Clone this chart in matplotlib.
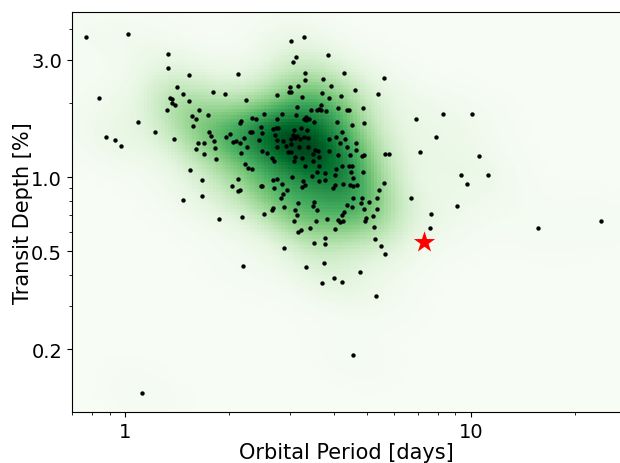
import numpy as np
import matplotlib.pyplot as plt
from matplotlib.ticker import FixedLocator, FixedFormatter, NullFormatter

# orbital period [days] and transit depth [%] for each planet candidate
period = [0.77, 1.02, 0.84, 0.88, 0.93, 0.97, 1.09, 1.12, 1.33, 1.33,
          1.53, 2.12, 1.41, 1.47, 1.79, 1.94, 1.35, 1.36, 2.23, 1.36,
          1.39, 1.32, 1.53, 1.63, 1.56, 1.60, 1.73, 1.57, 1.22, 1.38,
          1.74, 1.77, 1.80, 1.62, 1.69, 1.60, 1.69, 1.81, 1.83, 1.95,
          2.01, 2.05, 2.09, 2.15, 2.20, 2.25, 2.16, 2.14, 2.16, 2.33,
          2.39, 2.52, 2.47, 2.29, 2.32, 2.48, 2.44, 2.49, 2.57, 3.28,
          3.02, 3.12, 3.05, 3.85, 3.31, 3.31, 4.30, 3.73, 5.59, 3.16,
          3.00, 2.98, 3.01, 2.75, 3.25, 3.94, 3.70, 3.88, 4.63, 5.38,
          4.21, 3.68, 3.62, 3.68, 3.58, 3.80, 3.45, 3.13, 4.13, 4.39,
          4.44, 4.88, 2.84, 3.11, 2.75, 3.33, 3.28, 3.32, 3.40, 3.52,
          4.09, 4.51, 4.91, 2.67, 2.73, 2.77, 3.08, 3.23, 3.35, 4.22,
          2.71, 3.06, 3.13, 3.10, 3.02, 3.28, 3.20, 3.37, 3.89, 4.07,
          4.32, 2.74, 2.86, 4.18, 4.66, 4.38, 2.91, 3.01, 3.18, 3.38,
          2.74, 3.54, 3.60, 3.87, 4.65, 2.95, 3.02, 3.48, 3.25, 3.09,
          3.64, 4.12, 4.45, 4.83, 4.89, 5.64, 5.79, 2.65, 2.69, 2.22,
          2.27, 2.32, 2.12, 2.03, 2.12, 2.15, 2.46, 2.48, 1.54, 1.67,
          1.67, 1.47, 1.87, 2.18, 2.51, 2.19, 3.08, 3.30, 3.49, 3.64,
          4.23, 4.44, 4.52, 4.07, 3.58, 3.79, 4.50, 4.86, 3.46, 3.04,
          4.05, 4.55, 2.68, 2.74, 3.26, 3.64, 3.79, 2.84, 2.69, 3.31,
          3.25, 3.98, 4.05, 4.27, 4.45, 4.55, 4.69, 5.59, 5.43, 2.93,
          2.86, 2.82, 4.55, 4.84, 5.07, 5.36, 3.16, 3.52, 3.50, 3.59,
          4.38, 4.51, 4.81, 4.90, 5.34, 2.67, 2.65, 2.88, 3.09, 3.14,
          4.29, 4.23, 3.84, 4.13, 4.18, 4.26, 4.97, 4.94, 5.21, 3.07,
          3.55, 5.25, 4.04, 3.41, 3.23, 3.15, 3.77, 3.78, 3.52, 5.29,
          5.49, 5.63, 2.87, 3.75, 3.32, 4.78, 4.01, 4.23, 3.71, 5.31,
          4.54, 6.94, 8.30, 10.04, 7.93, 7.14, 10.54, 9.35, 11.18, 9.73,
          6.71, 9.12, 7.65, 7.61, 15.66, 23.76]
depth = [3.71, 3.82, 2.10, 1.45, 1.41, 1.34, 1.68, 0.132, 3.16, 2.77,
         2.61, 2.62, 2.32, 2.18, 2.21, 2.17, 2.10, 2.075, 2.05, 2.01,
         1.96, 1.88, 2.03, 1.88, 1.77, 1.72, 1.78, 1.62, 1.53, 1.43,
         1.53, 1.47, 1.40, 1.38, 1.37, 1.30, 1.24, 1.31, 1.19, 1.46,
         1.49, 1.39, 1.40, 1.38, 1.44, 1.33, 1.25, 1.66, 1.69, 1.74,
         1.73, 1.80, 1.60, 1.52, 1.52, 1.51, 1.42, 1.28, 1.25, 3.71,
         3.56, 3.07, 2.94, 3.14, 2.66, 2.47, 2.65, 2.50, 2.54, 2.34,
         2.32, 2.22, 2.21, 2.15, 2.12, 2.34, 2.19, 2.09, 2.25, 2.17,
         2.13, 1.96, 1.885, 1.87, 1.87, 1.86, 1.88, 1.92, 1.91, 1.87,
         1.88, 1.91, 1.81, 1.79, 1.72, 1.76, 1.72, 1.705, 1.73, 1.68,
         1.67, 1.63, 1.66, 1.57, 1.58, 1.58, 1.55, 1.58, 1.55, 1.53,
         1.48, 1.48, 1.47, 1.44, 1.43, 1.45, 1.43, 1.44, 1.43, 1.46,
         1.43, 1.41, 1.40, 1.38, 1.38, 1.33, 1.34, 1.36, 1.32, 1.33,
         1.32, 1.29, 1.28, 1.28, 1.29, 1.26, 1.26, 1.24, 1.20, 1.21,
         1.21, 1.23, 1.23, 1.22, 1.23, 1.24, 1.24, 1.20, 1.16, 1.13,
         1.085, 1.075, 0.984, 0.922, 0.875, 0.886, 0.917, 0.919, 1.065, 0.975,
         0.841, 0.806, 0.677, 0.686, 0.711, 0.436, 1.16, 1.11, 1.165, 1.11,
         1.105, 1.105, 1.105, 1.078, 1.051, 1.037, 1.045, 1.045, 1.006, 0.997,
         1.018, 0.990, 0.975, 0.981, 0.963, 0.963, 0.969, 0.935, 0.900, 0.928,
         0.913, 0.902, 0.930, 0.934, 0.925, 0.922, 0.930, 0.944, 0.888, 0.886,
         0.852, 0.822, 0.822, 0.819, 0.791, 0.822, 0.783, 0.793, 0.760, 0.734,
         0.769, 0.753, 0.783, 0.741, 0.741, 0.746, 0.734, 0.753, 0.734, 0.700,
         0.718, 0.702, 0.673, 0.669, 0.654, 0.660, 0.679, 0.664, 0.692, 0.662,
         0.660, 0.628, 0.615, 0.619, 0.608, 0.596, 0.567, 0.537, 0.541, 0.562,
         0.526, 0.485, 0.513, 0.447, 0.430, 0.412, 0.389, 0.373, 0.371, 0.328,
         0.190, 1.73, 1.81, 1.80, 1.45, 1.26, 1.22, 1.016, 1.022, 0.939,
         0.824, 0.762, 0.705, 0.621, 0.621, 0.662]

# the highlighted target
star_period = 7.33
star_depth = 0.546

x_ticks = [1, 10]
x_ticklabels = ['1', '10']
y_ticks = [0.2, 0.5, 1.0, 3.0]
y_ticklabels = ['0.2', '0.5', '1.0', '3.0']
xlim = (0.70, 27.2)
ylim = (0.111, 4.69)

fig = plt.figure(figsize=(6.2, 4.64), dpi=100)
ax = fig.add_axes([0.116, 0.110, 0.886, 0.862])

# gaussian kde in log space (scott's rule)
lx = np.log10(period)
ly = np.log10(depth)
data = np.vstack([lx, ly])
n = data.shape[1]
kcov = np.cov(data) * n ** (-1 / 3)
inv = np.linalg.inv(kcov)

gx = np.linspace(np.log10(xlim[0]), np.log10(xlim[1]), 161)
gy = np.linspace(np.log10(ylim[0]), np.log10(ylim[1]), 121)
cx = 0.5 * (gx[:-1] + gx[1:])
cy = 0.5 * (gy[:-1] + gy[1:])
XX, YY = np.meshgrid(cx, cy)
dx = XX.ravel()[:, None] - lx[None, :]
dy = YY.ravel()[:, None] - ly[None, :]
q = inv[0, 0] * dx**2 + 2 * inv[0, 1] * dx * dy + inv[1, 1] * dy**2
dens = np.exp(-0.5 * q).sum(axis=1).reshape(XX.shape)

ax.pcolormesh(10**gx, 10**gy, dens, cmap='Greens', vmin=0, shading='flat',
              rasterized=True)

ax.scatter(period, depth, s=10, c='k', linewidths=0, zorder=3)
ax.scatter(star_period, star_depth, marker='*', s=260, c='red',
           linewidths=0, zorder=4)

ax.set_xscale('log')
ax.set_yscale('log')
ax.set_xlim(xlim)
ax.set_ylim(ylim)

ax.xaxis.set_major_locator(FixedLocator(x_ticks))
ax.xaxis.set_major_formatter(FixedFormatter(x_ticklabels))
ax.xaxis.set_minor_formatter(NullFormatter())
ax.yaxis.set_major_locator(FixedLocator(y_ticks))
ax.yaxis.set_major_formatter(FixedFormatter(y_ticklabels))
ax.yaxis.set_minor_formatter(NullFormatter())
ax.tick_params(labelsize=14)

ax.set_xlabel('Orbital Period [days]', fontsize=15, labelpad=1)
ax.set_ylabel('Transit Depth [%]', fontsize=15, labelpad=-1)

fig.savefig('out.png', dpi=100)
